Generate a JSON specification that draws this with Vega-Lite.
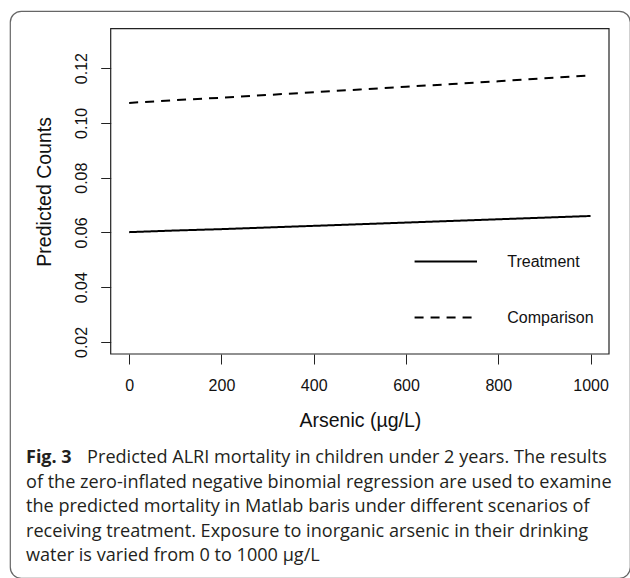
{
  "$schema": "https://vega.github.io/schema/vega-lite/v6.json",
  "width": 620,
  "height": 567,
  "autosize": {"type": "none"},
  "padding": {"left": 10, "top": 11, "right": 0, "bottom": 0},
  "background": "white",
  "view": {"stroke": "#666666", "strokeWidth": 1.2, "cornerRadius": 11, "fill": "white"},
  "title": {
    "text": "Fig. 3",
    "subtitle": [
      "\u200b\u00a0\u00a0\u00a0\u00a0\u00a0\u00a0\u00a0\u00a0\u00a0\u00a0\u00a0\u00a0\u00a0Predicted ALRI mortality in children under 2 years. The results",
      "of the zero-inflated negative binomial regression are used to examine",
      "the predicted mortality in Matlab baris under different scenarios of",
      "receiving treatment. Exposure to inorganic arsenic in their drinking",
      "water is varied from 0 to 1000 µg/L"
    ],
    "orient": "bottom",
    "anchor": "start",
    "frame": "group",
    "offset": -129,
    "dx": 16,
    "font": "Open Sans",
    "fontSize": 18,
    "fontWeight": "bold",
    "color": "#231f20",
    "subtitleFont": "Open Sans",
    "subtitleFontSize": 18.1,
    "subtitleFontWeight": "normal",
    "subtitleColor": "#231f20",
    "subtitleLineHeight": 24.6,
    "subtitlePadding": -18
  },
  "config": {
    "axis": {
      "labelFont": "Liberation Sans",
      "titleFont": "Liberation Sans",
      "labelColor": "#111111",
      "titleColor": "#111111",
      "tickColor": "#222222",
      "domain": false,
      "grid": false,
      "labelFontSize": 16,
      "titleFontSize": 19.5,
      "titleFontWeight": "normal",
      "tickSize": 10,
      "labelOverlap": false,
      "labelFlush": false
    },
    "legend": {
      "labelFont": "Liberation Sans",
      "labelFontSize": 16,
      "labelColor": "#111111"
    }
  },
  "datasets": {
    "frame": [{"box": "plot"}],
    "pred": [
      {"arsenic": 0, "series": "Treatment", "count": 0.0601},
      {"arsenic": 100, "series": "Treatment", "count": 0.0607},
      {"arsenic": 200, "series": "Treatment", "count": 0.0612},
      {"arsenic": 300, "series": "Treatment", "count": 0.0618},
      {"arsenic": 400, "series": "Treatment", "count": 0.0624},
      {"arsenic": 500, "series": "Treatment", "count": 0.0630},
      {"arsenic": 600, "series": "Treatment", "count": 0.0636},
      {"arsenic": 700, "series": "Treatment", "count": 0.0642},
      {"arsenic": 800, "series": "Treatment", "count": 0.0648},
      {"arsenic": 900, "series": "Treatment", "count": 0.0654},
      {"arsenic": 1000, "series": "Treatment", "count": 0.0660},
      {"arsenic": 0, "series": "Comparison", "count": 0.1073},
      {"arsenic": 100, "series": "Comparison", "count": 0.1083},
      {"arsenic": 200, "series": "Comparison", "count": 0.1092},
      {"arsenic": 300, "series": "Comparison", "count": 0.1102},
      {"arsenic": 400, "series": "Comparison", "count": 0.1112},
      {"arsenic": 500, "series": "Comparison", "count": 0.1122},
      {"arsenic": 600, "series": "Comparison", "count": 0.1132},
      {"arsenic": 700, "series": "Comparison", "count": 0.1142},
      {"arsenic": 800, "series": "Comparison", "count": 0.1152},
      {"arsenic": 900, "series": "Comparison", "count": 0.1163},
      {"arsenic": 1000, "series": "Comparison", "count": 0.1173}
    ]
  },
  "layer": [
    {
      "data": {"name": "frame"},
      "mark": {"type": "rect", "fill": null, "fillOpacity": 0, "stroke": "#222222", "strokeWidth": 1.2},
      "encoding": {
        "x": {"datum": -40, "type": "quantitative"},
        "x2": {"datum": 1040},
        "y": {"datum": 0.0156, "type": "quantitative"},
        "y2": {"datum": 0.1344}
      }
    },
    {
      "data": {"name": "pred"},
      "mark": {"type": "line", "color": "black", "strokeWidth": 2},
      "encoding": {
        "x": {
          "field": "arsenic",
          "type": "quantitative",
          "scale": {"domain": [-40, 1040], "range": [100.7, 599], "nice": false, "zero": false},
          "axis": {
            "orient": "bottom",
            "offset": -224,
            "values": [0, 200, 400, 600, 800, 1000],
            "format": "d",
            "labelPadding": 13,
            "title": "Arsenic (µg/L)",
            "titlePadding": 18
          }
        },
        "y": {
          "field": "count",
          "type": "quantitative",
          "scale": {"domain": [0.0156, 0.1344], "range": [343, 17.7], "nice": false, "zero": false},
          "axis": {
            "orient": "left",
            "offset": -100.7,
            "values": [0.02, 0.04, 0.06, 0.08, 0.1, 0.12],
            "format": ".2f",
            "labelAngle": 270,
            "labelPadding": 11,
            "title": "Predicted Counts",
            "titlePadding": 19
          }
        },
        "strokeDash": {
          "field": "series",
          "type": "nominal",
          "scale": {"domain": ["Treatment", "Comparison"], "range": [[1, 0], [9, 7]]},
          "legend": {
            "orient": "none",
            "legendX": 403.3,
            "legendY": 218,
            "title": null,
            "symbolType": "stroke",
            "symbolSize": 3900,
            "symbolStrokeWidth": 2,
            "symbolStrokeColor": "black",
            "labelOffset": 29,
            "rowPadding": 15
          }
        }
      }
    }
  ]
}
